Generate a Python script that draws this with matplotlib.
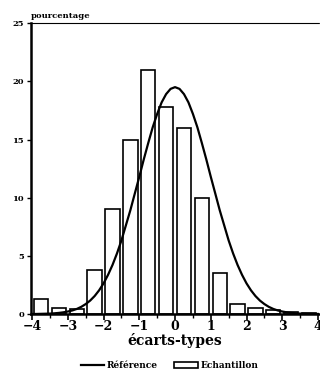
import numpy as np
import matplotlib.pyplot as plt

# histogram bins (centres in standard deviations) and percentages
centres = [-3.75, -3.25, -2.75, -2.25, -1.75, -1.25, -0.75, -0.25,
           0.25, 0.75, 1.25, 1.75, 2.25, 2.75, 3.25, 3.75]
pct = [1.3, 0.5, 0.4, 3.8, 9.0, 15.0, 21.0, 17.8,
       16.0, 10.0, 3.5, 0.85, 0.55, 0.35, 0.15, 0.1]

# reference curve
ref_x = [-4, -3.875, -3.75, -3.625, -3.5, -3.375, -3.25, -3.125, -3, -2.875,
         -2.75, -2.625, -2.5, -2.375, -2.25, -2.125, -2, -1.875, -1.75, -1.625,
         -1.5, -1.375, -1.25, -1.125, -1, -0.875, -0.75, -0.625, -0.5, -0.375,
         -0.25, -0.125, 0, 0.125, 0.25, 0.375, 0.5, 0.625, 0.75, 0.875,
         1, 1.125, 1.25, 1.375, 1.5, 1.625, 1.75, 1.875, 2, 2.125,
         2.25, 2.375, 2.5, 2.625, 2.75, 2.875, 3, 3.125, 3.25, 3.375,
         3.5, 3.625, 3.75, 3.875, 4]
ref_y = [0.01, 0.01, 0.02, 0.03, 0.04, 0.065, 0.10, 0.15, 0.22, 0.31,
         0.44, 0.62, 0.86, 1.16, 1.55, 2.04, 2.64, 3.37, 4.22, 5.21,
         6.33, 7.63, 8.93, 10.37, 11.8, 13.29, 14.7, 16.05, 17.2, 18.19,
         18.9, 19.35, 19.5, 19.35, 18.9, 18.19, 17.2, 16.05, 14.7, 13.29,
         11.8, 10.37, 8.93, 7.63, 6.33, 5.21, 4.22, 3.37, 2.64, 2.04,
         1.55, 1.16, 0.86, 0.62, 0.44, 0.31, 0.22, 0.15, 0.10, 0.065,
         0.04, 0.03, 0.02, 0.01, 0.01]

xticks = [-4, -3, -2, -1, 0, 1, 2, 3, 4]
yticks = [0, 5, 10, 15, 20, 25]

plt.rcParams['font.family'] = 'DejaVu Serif'
plt.rcParams['font.weight'] = 'bold'

fig = plt.figure(figsize=(3.2, 3.73), dpi=100)
ax = fig.add_axes([0.097, 0.158, 0.9, 0.78])

ax.bar(centres, pct, width=0.4, facecolor='white', edgecolor='black',
       linewidth=1.2, label='Echantillon')
ax.plot(ref_x, ref_y, color='black', linewidth=1.6, label='Référence')

ax.set_xlim(-4.03, 4.03)
ax.set_ylim(0, 25)
ax.set_xticks(xticks)
ax.set_xticks(np.arange(-3.5, 4, 1), minor=True)
ax.set_yticks(yticks)
ax.tick_params(axis='x', labelsize=9, length=4, width=1.2, pad=0)
ax.tick_params(axis='x', which='minor', length=3, width=1)
ax.tick_params(axis='y', labelsize=6, length=3, width=1, pad=2)

ax.spines['right'].set_visible(False)
ax.spines['top'].set_linewidth(0.8)
ax.spines['top'].set_linestyle((0, (4, 1)))
ax.spines['left'].set_linewidth(1.8)
ax.spines['bottom'].set_linewidth(1.8)

ax.set_xlabel('écarts-types', fontsize=10, fontweight='bold', labelpad=0)
ax.text(0.0, 1.01, 'pourcentage', transform=ax.transAxes, fontsize=6,
        fontweight='bold', ha='left', va='bottom')

handles, labels = ax.get_legend_handles_labels()
fig.legend(handles, labels, loc='lower center',
           bbox_to_anchor=(0.53, -0.015), ncol=2, frameon=False, fontsize=6.5,
           handlelength=2.6, columnspacing=1.8, handletextpad=0.3)

plt.savefig('out.png', dpi=100)
